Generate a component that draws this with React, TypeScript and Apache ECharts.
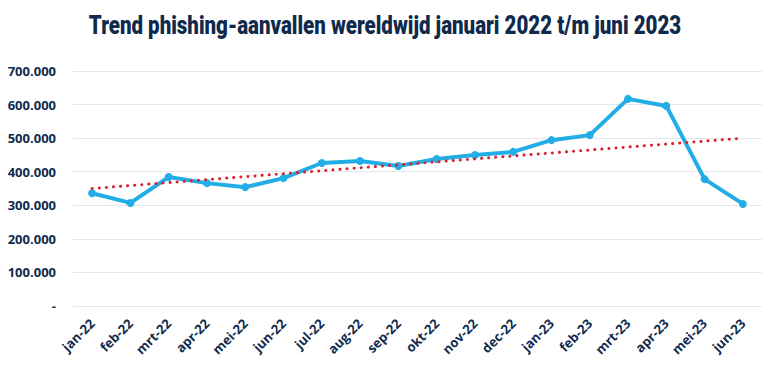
import React, { useEffect, useRef } from "react";
import * as echarts from "echarts";

const categories = ["jan-22","feb-22","mrt-22","apr-22","mei-22","jun-22","jul-22","aug-22","sep-22","okt-22","nov-22","dec-22","jan-23","feb-23","mrt-23","apr-23","mei-23","jun-23"];
const attacks = [336000,307000,384000,366000,354000,381000,426000,432000,417000,438000,450000,459000,494000,509000,617000,596000,378000,304000];
const trendStart = 350000;
const trendEnd = 500000;
const yTicks = [0,100000,200000,300000,400000,500000,600000,700000];
const titleText = "Trend phishing-aanvallen wereldwijd januari 2022 t/m juni 2023";

const navy = "#0f2a4d";

function fmt(v: number) {
  if (v === 0) return "-";
  return String(v).replace(/\B(?=(\d{3})+(?!\d))/g, ".");
}

export default function App() {
  const ref = useRef<HTMLDivElement>(null);
  useEffect(() => {
    const chart = echarts.init(ref.current!, undefined, { renderer: "svg" });
    chart.setOption({
      animation: false,
      backgroundColor: "#ffffff",
      graphic: [
        {
          type: "text",
          x: 385,
          y: 26,
          scaleX: 0.82,
          style: {
            text: titleText,
            x: 0,
            y: 0,
            textAlign: "center",
            textVerticalAlign: "middle",
            fontFamily: "Roboto",
            fontWeight: 900,
            fontSize: 25,
            fill: navy,
          },
        },
      ],
      grid: { left: 73, right: 8, top: 71, bottom: 67 },
      xAxis: {
        type: "category",
        data: categories,
        boundaryGap: true,
        axisLine: { show: false },
        axisTick: { show: false },
        axisLabel: { rotate: 45, interval: 0, margin: 15, fontFamily: "Open Sans", fontWeight: "bold", fontSize: 13, color: navy },
      },
      yAxis: {
        type: "value",
        min: yTicks[0],
        max: yTicks[yTicks.length - 1],
        interval: 100000,
        axisLine: { show: false },
        axisTick: { show: false },
        splitLine: { lineStyle: { color: "#e3e6ea", width: 1 } },
        axisLabel: { formatter: (v: number) => fmt(v), margin: 17, fontFamily: "Open Sans", fontWeight: "bold", fontSize: 13, color: navy },
      },
      series: [
        {
          type: "line",
          data: [[categories[0], trendStart], [categories[categories.length - 1], trendEnd]],
          showSymbol: false,
          z: 3,
          lineStyle: { color: "#d9222e", width: 3, type: [0.1, 7], cap: "round" },
        },
        {
          type: "line",
          data: attacks,
          symbol: "circle",
          symbolSize: 8,
          z: 2,
          itemStyle: { color: "#22ade6" },
          lineStyle: { color: "#22ade6", width: 4 },
        },
      ],
    });
    return () => chart.dispose();
  }, []);
  return <div ref={ref} style={{ width: 770, height: 373, position: "absolute", left: 0, top: 0 }} />;
}
